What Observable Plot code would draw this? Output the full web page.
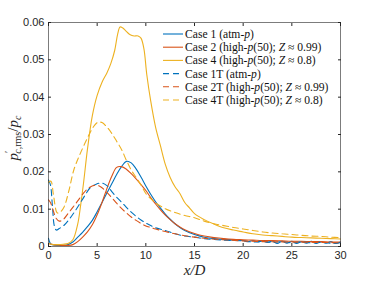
<!DOCTYPE html>
<html><head><meta charset="utf-8">
<script src="https://cdn.jsdelivr.net/npm/d3@7"></script>
<script src="https://cdn.jsdelivr.net/npm/@observablehq/plot@0.6"></script>
<style>body{margin:0;background:#fff}</style>
</head><body><div id="chart"></div>
<script>
const xTicks = [0, 5, 10, 15, 20, 25, 30];
const yTicks = [0, 0.01, 0.02, 0.03, 0.04, 0.05, 0.06];
const yTickLabels = ["0", "0.01", "0.02", "0.03", "0.04", "0.05", "0.06"];
const seriesNames = ["Case 1", "Case 2", "Case 4", "Case 1T", "Case 2T", "Case 4T"];
const legendLabels = [
  "Case 1 (atm-*p*)",
  "Case 2 (high-*p*(50); *Z* ≈ 0.99)",
  "Case 4 (high-*p*(50); *Z* ≈ 0.8)",
  "Case 1T (atm-*p*)",
  "Case 2T (high-*p*(50); *Z* ≈ 0.99)",
  "Case 4T (high-*p*(50); *Z* ≈ 0.8)"
];
const colors = ["#0072BD", "#D95319", "#EDB120", "#0072BD", "#D95319", "#EDB120"];
const dashed = [false, false, false, true, true, true];

const case1X = [0,0.2,0.5,1,1.5,2,2.5,3,3.5,4,4.5,5,5.5,6,6.5,7,7.5,8,8.5,9,9.5,10,10.5,11,11.5,12,12.5,13,13.5,14,15,16,17,18,19,20,20.5,21,21.5,22,22.5,23,23.5,24,24.5,25,25.5,26,26.5,27,27.5,28,28.5,29,29.5,30];
const case1Y = [0.0022,0.0008,0.0004,0.0003,0.0003,0.0005,0.0012,0.0025,0.0038,0.0053,0.007,0.0093,0.0118,0.0143,0.0168,0.0193,0.0214,0.0228,0.0224,0.0208,0.0186,0.0162,0.014,0.012,0.0103,0.0087,0.0073,0.0061,0.0051,0.0043,0.0032,0.0025,0.0021,0.0019,0.0017,0.0016,0.0013,0.0016,0.0012,0.0015,0.0011,0.0015,0.0008,0.0014,0.0009,0.0014,0.0008,0.0013,0.0009,0.0014,0.0008,0.0013,0.0009,0.0013,0.0008,0.0012];

const case2X = [0,0.5,1,1.5,2,2.5,3,3.5,4,4.5,5,5.5,6,6.5,7,7.5,8,8.5,9,9.5,10,10.5,11,11.5,12,12.5,13,13.5,14,15,16,17,18,19,20,21,22,23,24,25,26,27,28,29,30];
const case2Y = [0.0008,0.0005,0.0004,0.0003,0.0003,0.0005,0.0013,0.0025,0.0039,0.0058,0.0085,0.0118,0.0155,0.0188,0.0212,0.0214,0.0207,0.0195,0.0181,0.0166,0.015,0.0131,0.0114,0.0098,0.0084,0.0072,0.0061,0.0052,0.0045,0.0035,0.0028,0.0024,0.0021,0.0019,0.0018,0.0017,0.0016,0.0016,0.0015,0.0014,0.0014,0.0013,0.0013,0.0012,0.0012];

const case4X = [0,0.5,1,1.5,2,2.5,3,3.3,3.6,4,4.5,5,5.5,6,6.4,6.8,7.1,7.35,7.6,8,8.4,8.8,9.2,9.5,9.8,10.1,10.5,11,11.5,12,12.5,13,13.5,14,14.5,15,16,17,18,19,20,21,22,23,24,25,26,27,28,29,30];
const case4Y = [0.0008,0.0005,0.0005,0.0006,0.0008,0.0018,0.006,0.011,0.017,0.026,0.035,0.0405,0.044,0.0465,0.049,0.0525,0.0568,0.0588,0.0586,0.0576,0.0567,0.0564,0.0564,0.0558,0.053,0.046,0.039,0.032,0.027,0.022,0.0185,0.016,0.0142,0.0118,0.0103,0.0088,0.0072,0.006,0.005,0.0044,0.0039,0.0034,0.0031,0.0029,0.0027,0.0025,0.0024,0.0023,0.0022,0.0021,0.002];

const case1TX = [0,0.2,0.4,0.6,0.8,1.1,1.6,2.1,2.6,3.1,3.65,4.3,4.9,5.5,6,6.5,7,7.5,8,8.5,9,9.5,10,10.5,11,12,13,14,15,16,18,20,21,22,23,24,25,26,27,28,29,30];
const case1TY = [0.0178,0.0165,0.011,0.0055,0.0044,0.0048,0.0057,0.0072,0.009,0.011,0.0133,0.0158,0.0167,0.017,0.0163,0.0147,0.0132,0.0119,0.0105,0.0092,0.0081,0.0071,0.0063,0.0056,0.005,0.0043,0.0034,0.0028,0.0025,0.0021,0.0017,0.0015,0.0012,0.0014,0.0011,0.0013,0.001,0.0012,0.001,0.0011,0.0009,0.001];

const case2TX = [0,0.2,0.5,0.8,1.1,1.5,2,2.5,3,3.6,4.2,4.8,5.3,6,6.5,7,7.5,8,8.5,9,9.5,10,10.5,11,12,13,14,15,16,18,20,22,25,30];
const case2TY = [0.0125,0.0118,0.0095,0.0075,0.0068,0.0072,0.0088,0.0105,0.0122,0.0143,0.0158,0.0164,0.0161,0.0145,0.0131,0.0116,0.0102,0.009,0.0079,0.007,0.0062,0.0055,0.0051,0.0047,0.004,0.0034,0.0029,0.0025,0.0022,0.0018,0.0015,0.0013,0.0012,0.001];

const case4TX = [0,0.25,0.5,0.9,1.2,1.6,2.1,2.6,3.2,3.9,4.6,5.1,5.5,6,6.5,7,7.5,8,8.5,9,9.5,10,10.5,11,12,13,14,15,16,17,18,19,20,21,22,23,24,25,26,27,28,29,30];
const case4TY = [0.0172,0.0175,0.014,0.009,0.0092,0.0106,0.015,0.0205,0.0245,0.0285,0.032,0.0333,0.0332,0.032,0.0303,0.0282,0.026,0.0231,0.0205,0.0185,0.0165,0.0142,0.0128,0.0117,0.0101,0.0091,0.0083,0.0077,0.0068,0.0061,0.0056,0.0051,0.0047,0.0043,0.0039,0.0036,0.0034,0.0032,0.003,0.0028,0.0027,0.0025,0.0024];

const seriesX = [case1X, case2X, case4X, case1TX, case2TX, case4TX];
const seriesY = [case1Y, case2Y, case4Y, case1TY, case2TY, case4TY];

const rows = [];
seriesNames.forEach((s, k) => seriesX[k].forEach((x, i) => rows.push({series: s, x, y: seriesY[k][i]})));

const lineMarks = seriesNames.map((s, k) => Plot.line(rows.filter(r => r.series === s), {
  x: "x", y: "y", stroke: colors[k], strokeWidth: 1.1, curve: "catmull-rom",
  strokeDasharray: dashed[k] ? "6,4" : null
}));

const fmtY = d => yTickLabels[yTicks.indexOf(d)];
const plot = Plot.plot({
  width: 376, height: 282,
  marginLeft: 48, marginRight: 36, marginTop: 22, marginBottom: 36,
  style: {background: "#fff", fontFamily: "'Liberation Sans', Arial, Helvetica, sans-serif", fontSize: "11px", color: "#262626"},
  x: {domain: [0, 30]},
  y: {domain: [0, 0.06]},
  marks: [
    ...lineMarks,
    Plot.axisX({ticks: xTicks, tickSize: -3, tickPadding: 8, label: null, anchor: "bottom"}),
    Plot.axisX({ticks: xTicks, tickSize: -3, anchor: "top", tickFormat: () => "", label: null}),
    Plot.axisY({ticks: yTicks, tickSize: -3, tickPadding: 7, tickFormat: fmtY, label: null}),
    Plot.axisY({ticks: yTicks, tickSize: -3, anchor: "right", tickFormat: () => "", label: null}),
    Plot.frame({stroke: "#262626", strokeWidth: 0.6}),
    Plot.text(["x/D"], {frameAnchor: "bottom", dy: 28, fontFamily: "'Liberation Serif', 'DejaVu Serif', serif", fontStyle: "italic", fontSize: 15, fill: "#262626"})
  ]
});
document.getElementById("chart").appendChild(plot);

const svg = d3.select(plot);
// y label
const yl = svg.append("text")
  .attr("transform", "translate(18,138) rotate(-90)")
  .attr("text-anchor", "middle")
  .attr("font-family", "'Liberation Serif', 'DejaVu Serif', serif")
  .attr("font-size", 15).attr("fill", "#262626");
yl.append("tspan").attr("font-style", "italic").text("p");
yl.append("tspan").attr("font-size", 10).attr("dy", -6).text("′");
yl.append("tspan").attr("font-size", 10).attr("dy", 9).attr("dx", -3).attr("font-style", "italic").text("c");
yl.append("tspan").attr("font-size", 10).text(",rms");
yl.append("tspan").attr("dy", -3).text("/");
yl.append("tspan").attr("font-style", "italic").text("p");
yl.append("tspan").attr("font-size", 10).attr("dy", 3).attr("font-style", "italic").text("c");

// legend
const lg = svg.append("g").attr("font-family", "'Liberation Serif', 'DejaVu Serif', serif")
  .attr("font-size", 11.6).attr("fill", "#111").attr("text-anchor", "start");
legendLabels.forEach((lab, k) => {
  const y = 34 + k * 13.2;
  lg.append("line").attr("x1", 163).attr("x2", 183).attr("y1", y).attr("y2", y)
    .attr("stroke", colors[k]).attr("stroke-width", 1.1)
    .attr("stroke-dasharray", dashed[k] ? "6,4" : null);
  const t = lg.append("text").attr("x", 185).attr("y", y).attr("dy", "0.35em").attr("text-anchor", "start");
  lab.split("*").forEach((part, j) => {
    if (part) t.append("tspan").attr("font-style", j % 2 ? "italic" : null).text(part);
  });
});
</script>
</body></html>
